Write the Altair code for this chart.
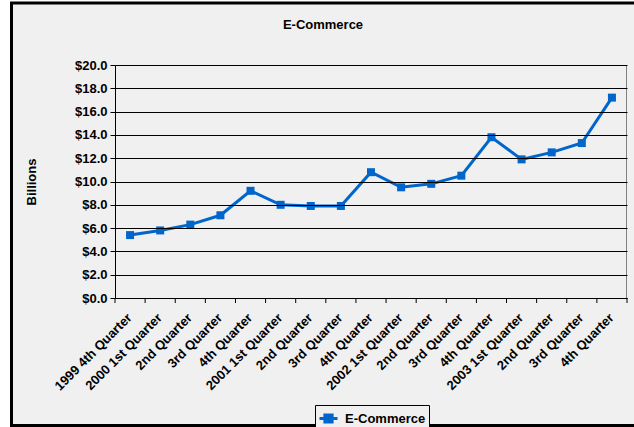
import json
import altair as alt
import pandas as pd

quarters = ["1999 4th Quarter", "2000 1st Quarter", "2nd Quarter", "3rd Quarter",
            "4th Quarter", "2001 1st Quarter", "2nd Quarter", "3rd Quarter",
            "4th Quarter", "2002 1st Quarter", "2nd Quarter", "3rd Quarter",
            "4th Quarter", "2003 1st Quarter", "2nd Quarter", "3rd Quarter",
            "4th Quarter"]
sales = [5.4, 5.8, 6.3, 7.1, 9.2, 8.0, 7.9, 7.9, 10.8, 9.5, 9.8, 10.5,
         13.8, 11.9, 12.5, 13.3, 17.2]
series_name = "E-Commerce"
y_ticks = [0, 2, 4, 6, 8, 10, 12, 14, 16, 18, 20]

W, H = 512, 233
BLUE = "#0066CC"
BG = "#f0f0f0"
FONT = "Liberation Sans"
FS = 13

df = pd.DataFrame({
    "pos": [i + 0.5 for i in range(len(quarters))],
    "quarter": quarters,
    "sales": sales,
    "series": [series_name] * len(quarters),
})
ticks_df = pd.DataFrame({"pos": list(range(len(quarters) + 1))})

label_expr = json.dumps(quarters) + "[round(datum.value - 0.5)]"

xscale = alt.Scale(domain=[0, len(quarters)], nice=False, zero=False)
yscale = alt.Scale(domain=[0, 20], nice=False)

x_axis = alt.Axis(values=[i + 0.5 for i in range(len(quarters))],
                  labelExpr=label_expr, ticks=False, grid=False,
                  title=None, labelAngle=-45, labelAlign="right",
                  labelBaseline="top", labelPadding=13, labelOffset=-5,
                  labelFont=FONT, labelFontWeight="bold",
                  labelFontSize=FS, labelColor="black",
                  domainColor="black", labelOverlap=False,
                  labelFlush=False, labelBound=False, zindex=1)

one = pd.DataFrame({"a": [0]})
frame = alt.Chart(one).mark_rect(
    fill=BG, stroke="black", strokeWidth=3
).encode(
    x=alt.value(-103.5), x2=alt.value(W + 30),
    y=alt.value(-62), y2=alt.value(H + 127.5)
)
border_top = alt.Chart(one).mark_rule(color="#808080", strokeWidth=1).encode(
    x=alt.value(0), x2=alt.value(W), y=alt.value(0.5)
)
border_right = alt.Chart(one).mark_rule(color="#808080", strokeWidth=1).encode(
    x=alt.value(W - 0.5), y=alt.value(0), y2=alt.value(H)
)

line = alt.Chart(df).mark_line(
    strokeWidth=3,
    point=alt.OverlayMarkDef(shape="square", size=64, filled=True, opacity=1),
).encode(
    x=alt.X("pos:Q", scale=xscale, axis=x_axis),
    y=alt.Y("sales:Q", scale=yscale,
            axis=alt.Axis(values=y_ticks, format="$.1f", grid=True,
                          gridColor="black", gridOpacity=1, gridWidth=1,
                          tickColor="black", tickSize=5, domainColor="black",
                          labelFont=FONT, labelFontWeight="bold",
                          labelFontSize=FS, labelColor="black", labelPadding=3,
                          title="Billions", titleFont=FONT, titleFontWeight="bold",
                          titleFontSize=FS, titleColor="black",
                          titleX=-84, titleY=H / 2, titleAngle=-90,
                          titleBaseline="middle", zindex=1)),
    color=alt.Color("series:N", scale=alt.Scale(range=[BLUE]),
                    legend=alt.Legend(
                        title=None, orient="none", legendX=200, legendY=340,
                        strokeColor="black", fillColor=BG, padding=3,
                        symbolType="M-1,0H1M-0.4,-0.4H0.4V0.4H-0.4Z",
                        symbolSize=324, symbolStrokeWidth=3,
                        symbolFillColor=BLUE, labelOffset=6, labelFont=FONT,
                        labelFontWeight="bold", labelFontSize=FS,
                        labelColor="black")),
)

tick_rules = alt.Chart(ticks_df).mark_rule(color="black", strokeWidth=1).encode(
    x=alt.X("pos:Q", scale=xscale, axis=x_axis),
    y=alt.value(H), y2=alt.value(H + 5),
)

chart = alt.layer(frame, border_top, border_right, line, tick_rules).properties(
    width=W, height=H,
    title=alt.TitleParams("E-Commerce", font=FONT, fontSize=13,
                          fontWeight="bold", color="black", anchor="middle",
                          frame="group", offset=-30, dx=-48),
    autosize=alt.AutoSizeParams(type="none"),
    padding={"left": 115, "top": 65, "right": 7, "bottom": 129},
    background="white",
).configure_view(stroke=None)

chart.save("out.html", embed_options={"renderer": "svg", "actions": False})
